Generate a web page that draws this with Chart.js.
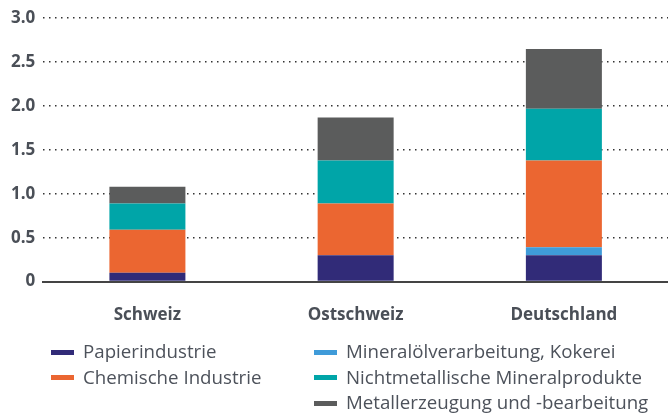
<!DOCTYPE html>
<html>
<head>
<meta charset="utf-8">
<script src="https://cdn.jsdelivr.net/npm/chart.js@4"></script>
<style>
  body { margin: 0; background: #fff; font-family: "Open Sans", sans-serif; }
  #wrap { position: relative; width: 668px; height: 414px; overflow: hidden; }
  #chart-box { position: absolute; left: 0; top: 0; width: 668px; height: 350px; }
  .legend { position: absolute; top: 338px; font-size: 18.7px; color: #4d525b; }
  .legend div { height: 25.5px; line-height: 25.5px; white-space: nowrap; }
  .legend span.sw { display: inline-block; width: 23px; height: 5px; vertical-align: middle; margin-right: 9px; position: relative; top: -1px; }
</style>
</head>
<body>
<div id="wrap">
  <div id="chart-box"><canvas id="energyChart"></canvas></div>
  <div class="legend" id="legendLeft" style="left:51px"></div>
  <div class="legend" id="legendRight" style="left:314px"></div>
</div>
<script>
// categories and values
const regions = ['Schweiz', 'Ostschweiz', 'Deutschland'];
const papier = [0.10, 0.30, 0.30];
const mineraloel = [0, 0, 0.09];
const chemie = [0.49, 0.59, 0.99];
const nichtmetall = [0.30, 0.49, 0.59];
const metall = [0.19, 0.49, 0.68];
const yTicks = [0, 0.5, 1.0, 1.5, 2.0, 2.5, 3.0];

const textColor = '#4a4f57';

const datasets = [
    { label: 'Papierindustrie', data: papier, backgroundColor: '#312b78' },
    { label: 'Mineralölverarbeitung, Kokerei', data: mineraloel, backgroundColor: '#3f9bd9' },
    { label: 'Chemische Industrie', data: chemie, backgroundColor: '#eb6631' },
    { label: 'Nichtmetallische Mineralprodukte', data: nichtmetall, backgroundColor: '#00a5a8' },
    { label: 'Metallerzeugung und -bearbeitung', data: metall, backgroundColor: '#5b5c5c' }
];

const ctx = document.getElementById('energyChart').getContext('2d');
const energyChart = new Chart(ctx, {
    type: 'bar',
    data: {
        labels: regions,
        datasets: datasets.map(d => ({
            ...d,
            borderWidth: 0,
            categoryPercentage: 1,
            barPercentage: 0.365
        }))
    },
    options: {
        responsive: true,
        maintainAspectRatio: false,
        animation: false,
        layout: { padding: { left: 3, right: 0, top: 10, bottom: 2 } },
        plugins: {
            legend: { display: false },
            tooltip: { enabled: false }
        },
        scales: {
            x: {
                stacked: true,
                grid: { display: false, drawTicks: false },
                border: { display: true, color: '#444', width: 2 },
                ticks: {
                    color: textColor,
                    padding: 23,
                    font: { family: 'Open Sans', size: 17, weight: 'bold' }
                }
            },
            y: {
                stacked: true,
                min: 0,
                max: 3,
                afterBuildTicks: axis => { axis.ticks = yTicks.map(v => ({ value: v })); },
                grid: {
                    color: c => c.tick && c.tick.value === 0 ? 'rgba(0,0,0,0)' : '#333',
                    lineWidth: 1.5,
                    drawTicks: false
                },
                border: { display: false, dash: [1.5, 4.5] },
                ticks: {
                    color: textColor,
                    padding: 8,
                    font: { family: 'Open Sans', size: 17, weight: 'bold' },
                    callback: v => v === 0 ? '0' : v.toFixed(1)
                }
            }
        }
    }
});

// legend in two columns like the original
function addLegendItem(boxId, ds) {
    const row = document.createElement('div');
    row.innerHTML = `<span class="sw" style="background:${ds.backgroundColor}"></span>${ds.label}`;
    document.getElementById(boxId).appendChild(row);
}
addLegendItem('legendLeft', datasets[0]);
addLegendItem('legendLeft', datasets[2]);
addLegendItem('legendRight', datasets[1]);
addLegendItem('legendRight', datasets[3]);
addLegendItem('legendRight', datasets[4]);
</script>
</body>
</html>
